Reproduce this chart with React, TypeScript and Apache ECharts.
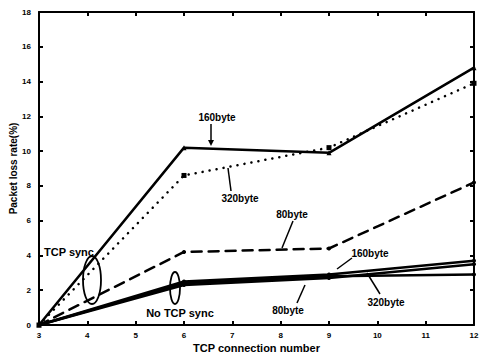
import React, { useEffect, useRef } from "react";
import * as echarts from "echarts";

const xValues = [3, 6, 9, 12];
const sync160 = [0, 10.2, 9.9, 14.8];
const sync320 = [0, 8.6, 10.2, 13.9];
const sync80 = [0, 4.2, 4.4, 8.2];
const nosync160 = [0, 2.5, 2.9, 3.7];
const nosync320 = [0, 2.4, 2.8, 2.9];
const nosync80 = [0, 2.3, 2.7, 3.5];

const FONT = "Liberation Sans";
const pair = (ys: number[]) => ys.map((y, i) => [xValues[i], y]);

export default function App() {
  const ref = useRef<HTMLDivElement>(null);
  useEffect(() => {
    if (!ref.current) return;
    document.body.style.margin = "0";
    const chart = echarts.init(ref.current, null, { renderer: "svg" });
    const axisLine = { show: true, onZero: false, lineStyle: { color: "#000", width: 2 } };
    const tickIn = { show: true, inside: true, length: 4, lineStyle: { color: "#000", width: 2 } };
    const lbl = { color: "#000", fontFamily: FONT, fontWeight: "bold" as const, fontSize: 8 };
    const mk = (name: string, ys: number[], type: any, symbol: string, size: number) => ({
      name,
      type: "line",
      data: pair(ys),
      symbol,
      symbolSize: size,
      itemStyle: { color: "#000" },
      lineStyle: { color: "#000", width: 2.5, type, cap: "round" },
      z: 3,
    });
    const txt = (x: number, y: number, text: string, size = 10) => ({
      type: "text",
      x,
      y,
      style: {
        text,
        fill: "#000",
        font: `bold ${size}px "${FONT}"`,
        textAlign: "center",
        textVerticalAlign: "middle",
      },
      z: 10,
    });
    const ln = (x1: number, y1: number, x2: number, y2: number) => ({
      type: "line",
      shape: { x1, y1, x2, y2 },
      style: { stroke: "#000", lineWidth: 1.5 },
      z: 10,
    });
    const ell = (cx: number, cy: number, rx: number, ry: number) => ({
      type: "ellipse",
      shape: { cx, cy, rx, ry },
      style: { stroke: "#000", lineWidth: 1.8, fill: "none" },
      z: 10,
    });
    chart.setOption({
      animation: false,
      backgroundColor: "#fff",
      grid: { left: 39, right: 9, top: 12, bottom: 30, containLabel: false, outerBoundsMode: "none" },
      xAxis: [
        {
          type: "value",
          min: 3,
          max: 12,
          interval: 1,
          position: "bottom",
          axisLine,
          axisTick: tickIn,
          splitLine: { show: false },
          axisLabel: { ...lbl, margin: 6 },
          name: "TCP connection number",
          nameLocation: "middle",
          nameGap: 17,
          nameMoveOverlap: false,
          nameTextStyle: { color: "#000", fontFamily: FONT, fontWeight: "bold", fontSize: 11 },
        },
        {
          type: "value",
          min: 3,
          max: 12,
          interval: 1,
          position: "top",
          axisLine,
          axisTick: tickIn,
          splitLine: { show: false },
          axisLabel: { show: false },
        },
      ],
      yAxis: [
        {
          type: "value",
          min: 0,
          max: 18,
          interval: 2,
          position: "left",
          axisLine,
          axisTick: tickIn,
          splitLine: { show: false },
          axisLabel: { ...lbl, margin: 8 },
          name: "Packet loss rate(%)",
          nameLocation: "middle",
          nameGap: 21,
          nameMoveOverlap: false,
          nameTextStyle: { color: "#000", fontFamily: FONT, fontWeight: "bold", fontSize: 10 },
        },
        {
          type: "value",
          min: 0,
          max: 18,
          interval: 2,
          position: "right",
          axisLine,
          axisTick: tickIn,
          splitLine: { show: false },
          axisLabel: { show: false },
        },
      ],
      series: [
        mk("TCP sync 160byte", sync160, "solid", "triangle", 5),
        mk("TCP sync 320byte", sync320, [0.1, 7], "rect", 5),
        mk("TCP sync 80byte", sync80, [10, 7], "circle", 4),
        mk("No TCP sync 160byte", nosync160, "solid", "circle", 4),
        mk("No TCP sync 320byte", nosync320, "solid", "circle", 4),
        mk("No TCP sync 80byte", nosync80, "solid", "circle", 4),
      ],
      graphic: [
        txt(217, 117, "160byte"),
        ln(211, 124, 211, 141),
        {
          type: "polygon",
          shape: { points: [[208, 140], [214, 140], [211, 146]] },
          style: { fill: "#000" },
          z: 10,
        },
        txt(240, 198, "320byte"),
        ln(228, 168, 231, 191),
        txt(292, 214, "80byte"),
        ln(293, 221, 282, 248),
        txt(69, 252, "TCP sync", 11),
        ell(92, 280, 9, 24),
        txt(180, 313, "No TCP sync", 11),
        ell(175, 288, 5, 16),
        txt(370, 253, "160byte"),
        ln(352, 258, 337, 269),
        txt(386, 302, "320byte"),
        ln(380, 294, 367, 273),
        txt(288, 310, "80byte"),
        ln(297, 303, 305, 285),
      ],
    });
    return () => chart.dispose();
  }, []);
  return <div ref={ref} style={{ width: 483, height: 355 }} />;
}
